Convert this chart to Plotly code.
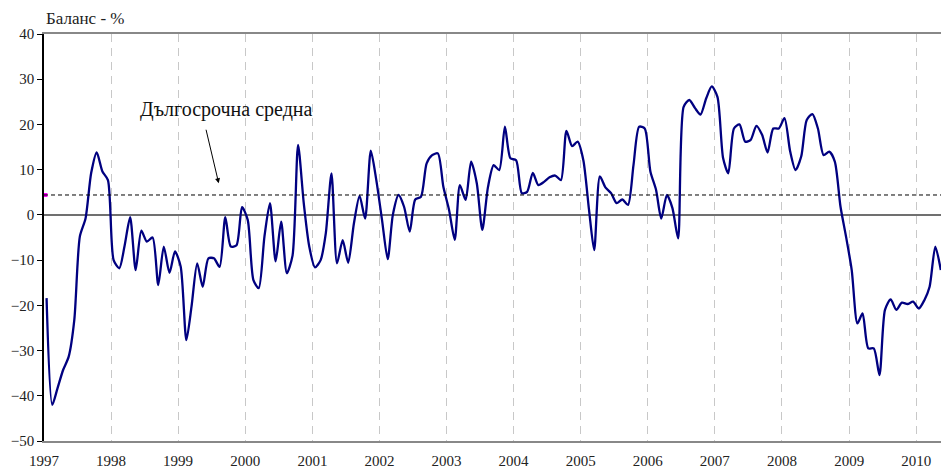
import pandas as pd
import plotly.graph_objects as go

# Monthly balance (%), Jan 1997 - May 2010
start_month = "1997-01-01"
values = [
    -18.4, -42.0, -38.4, -34.3, -31.4, -23.2, -4.8, -0.8, 9.3, 13.8, 9.6, 7.7,      # 1997
    -10.0, -11.8, -7.0, -0.5, -12.2, -3.5, -5.9, -5.0, -15.5, -7.0, -12.8, -8.1,   # 1998
    -11.4, -27.7, -20.3, -10.7, -15.9, -9.6, -9.6, -11.5, -0.5, -7.0, -6.7, 1.7,   # 1999
    -1.1, -14.4, -16.2, -4.8, 2.6, -10.3, -1.5, -12.9, -9.0, 15.5, 2.6, -7.0,      # 2000
    -11.6, -10.0, -4.1, 9.2, -10.7, -5.6, -10.6, -1.9, 4.2, -0.8, 14.2, 7.7,       # 2001
    -1.1, -9.8, 0.0, 4.4, 1.8, -3.7, 3.4, 4.0, 11.4, 13.2, 13.6, 6.2,              # 2002
    1.1, -5.5, 6.6, 3.3, 11.8, 7.0, -3.3, 6.2, 11.0, 9.9, 19.5, 12.5,              # 2003
    12.1, 4.8, 5.1, 9.3, 6.6, 7.3, 8.3, 8.7, 7.7, 18.6, 15.2, 16.2,                # 2004
    12.1, 1.1, -7.8, 8.5, 6.1, 4.8, 2.6, 3.4, 2.2, 11.0, 19.5, 19.1,               # 2005
    9.6, 5.5, -0.8, 4.4, 1.5, -5.2, 23.9, 25.4, 23.6, 22.2, 25.8, 28.4,            # 2006
    26.1, 12.5, 9.2, 19.1, 20.0, 16.2, 16.6, 19.7, 17.7, 13.8, 19.1, 19.1,         # 2007
    21.4, 14.0, 9.9, 12.9, 21.0, 22.3, 19.1, 13.2, 14.0, 11.8, 1.8, -4.8,          # 2008
    -12.2, -24.0, -21.8, -29.5, -29.5, -35.4, -21.0, -18.7, -21.0, -19.4, -19.7, -19.2,  # 2009
    -20.7, -18.8, -15.9, -7.0, -12.2,                                               # 2010
]
long_term_avg = 4.4
year_ticks = list(range(1997, 2011))
y_ticks = [-50, -40, -30, -20, -10, 0, 10, 20, 30, 40]
title_text = "Баланс - %"
annot_text = "Дългосрочна средна"

dates = pd.date_range(start_month, periods=len(values), freq="MS") + pd.Timedelta(days=14)
x_start = pd.Timestamp("1997-01-01")
x_end = pd.Timestamp("2010-05-16")

FONT = "Liberation Serif"

fig = go.Figure()
fig.add_trace(go.Scatter(
    x=dates, y=values, mode="lines",
    line=dict(color="#000080", width=2.3, shape="spline", smoothing=0.7),
    showlegend=False, hoverinfo="skip",
))
# long-term average marker (magenta square at left edge)
fig.add_trace(go.Scatter(
    x=[x_start + pd.Timedelta(days=8)], y=[long_term_avg], mode="markers",
    marker=dict(symbol="square", size=4, color="#ff00ff"),
    showlegend=False, hoverinfo="skip", cliponaxis=False,
))

# long-term average dashed line
fig.add_shape(type="line", xref="paper", yref="y", x0=0, x1=1,
              y0=long_term_avg, y1=long_term_avg,
              line=dict(color="black", width=1, dash="4px,3px"), layer="above")
# zero line
fig.add_shape(type="line", xref="paper", yref="y", x0=0, x1=1, y0=0, y1=0,
              line=dict(color="#404040", width=1.5), layer="below")

fig.update_xaxes(
    type="date", range=[x_start, x_end],
    tickvals=[pd.Timestamp(f"{y}-01-01") for y in year_ticks],
    ticktext=[str(y) for y in year_ticks],
    showgrid=True, gridcolor="#c8c8c8", gridwidth=1, griddash="8px,6px",
    showline=True, linecolor="#888888", linewidth=1.5, mirror=True,
    ticks="", zeroline=False, ticklabelstandoff=5,
    tickfont=dict(family=FONT, size=15, color="#222222"),
)
fig.update_yaxes(
    range=[-50, 40], tickvals=y_ticks,
    showgrid=False, zeroline=False,
    showline=True, linecolor="black", linewidth=1.5,
    ticks="outside", ticklen=5, tickcolor="black", tickwidth=1,
    tickfont=dict(family=FONT, size=15, color="#222222"),
)

fig.add_annotation(xref="paper", yref="paper", x=0, y=1 + 15 / 407,
                   xanchor="left", yanchor="middle", showarrow=False,
                   text=title_text, font=dict(family=FONT, size=17, color="#222222"))
fig.add_annotation(x=pd.Timestamp("1998-05-26"), y=23.2, xref="x", yref="y",
                   xanchor="left", yanchor="middle", showarrow=False,
                   text=annot_text, font=dict(family=FONT, size=20, color="#111111"))
fig.add_annotation(x=pd.Timestamp("1999-08-10"), y=7.0, xref="x", yref="y",
                   ax=-13, ay=-55, axref="pixel", ayref="pixel",
                   text="", showarrow=True, arrowhead=2, arrowsize=1,
                   arrowwidth=1, arrowcolor="black", standoff=0)

fig.update_layout(
    width=941, height=470,
    margin=dict(l=44, r=0, t=34, b=29),
    plot_bgcolor="white", paper_bgcolor="white",
)

fig.write_html("out.html", config={"displayModeBar": False},
               post_script="document.body.style.margin='0';")
